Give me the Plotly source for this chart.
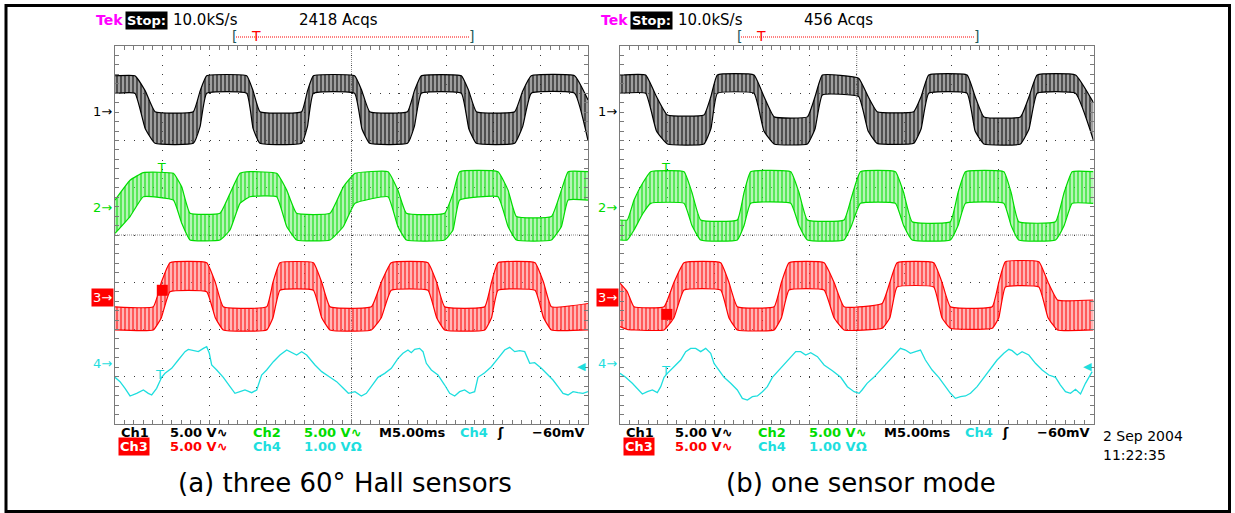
import plotly.graph_objects as go

W, H = 1235, 513

# ---------------- data: time in ms (0..50, 5 ms/div), amplitude in screen divisions ----------------
# Panel (a) three 60 deg Hall sensors
a1_t = [0, 2.11, 3.2, 4.23, 8.28, 9.0, 9.69, 13.92, 14.6, 15.33, 19.73, 20.35, 20.97, 25.33, 26.1, 26.92,
        30.92, 31.65, 32.38, 36.61, 37.4, 38.2, 42.25, 43.1, 44.0, 48.58, 50]
a1_hi = [3.37, 3.37, 3.05, 2.61, 2.61, 3.05, 3.37, 3.37, 3.05, 2.61, 2.61, 3.05, 3.37, 3.37, 3.05, 2.61,
         2.61, 3.05, 3.37, 3.37, 3.05, 2.61, 2.61, 3.05, 3.37, 3.37, 2.86]
a1_lo = [3.00, 3.00, 2.25, 1.94, 1.94, 2.3, 3.00, 3.00, 2.25, 1.94, 1.94, 2.3, 3.00, 3.00, 2.25, 1.94,
         1.94, 2.3, 3.00, 3.00, 2.25, 1.94, 1.94, 2.3, 3.00, 3.00, 2.0]

a2_t = [0, 1.59, 3.0, 6.17, 7.05, 7.93, 11.1, 12.16, 13.21, 14.27, 17.09, 18.15, 19.2, 22.73, 24.14, 25.37,
        28.86, 29.9, 30.8, 34.85, 35.73, 36.43, 40.49, 41.55, 42.43, 46.13, 47.19, 47.9, 50]
a2_hi = [0.74, 1.16, 1.32, 1.305, 1.02, 0.46, 0.46, 0.88, 1.305, 1.34, 1.305, 0.95, 0.46, 0.46, 1.02, 1.305,
         1.34, 0.95, 0.46, 0.46, 0.88, 1.34, 1.34, 0.95, 0.39, 0.39, 0.95, 1.34, 1.34]
a2_lo = [0.035, 0.39, 0.81, 0.74, 0.25, -0.106, -0.106, 0.106, 0.67, 0.81, 0.81, 0.18, -0.106, -0.106, 0.18, 0.67,
         0.81, 0.18, -0.106, -0.106, 0.106, 0.74, 0.81, 0.18, -0.106, -0.106, 0.18, 0.74, 0.74]

a3_t = [0, 4.05, 4.9, 5.81, 9.69, 10.6, 11.45, 16.03, 16.7, 17.44, 20.97, 21.85, 22.73, 27.1, 28.15, 29.2,
        33.08, 34.0, 34.85, 39.08, 39.8, 40.49, 44.4, 45.3, 46.13, 50]
a3_hi = [-1.52, -1.52, -1.0, -0.586, -0.586, -1.0, -1.52, -1.52, -1.0, -0.586, -0.586, -1.0, -1.52, -1.52, -1.0,
         -0.586, -0.586, -1.0, -1.52, -1.52, -1.0, -0.586, -0.586, -1.0, -1.52, -1.45]
a3_lo = [-2.01, -2.01, -1.75, -1.2, -1.2, -1.75, -2.01, -2.01, -1.75, -1.17, -1.17, -1.75, -2.01, -2.01, -1.75,
         -1.17, -1.17, -1.75, -2.01, -2.01, -1.75, -1.17, -1.17, -1.75, -2.01, -2.01]

a4_t = [0, 0.53, 1.06, 1.59, 2.29, 3.0, 3.52, 3.88, 4.40, 4.93, 5.29, 5.99, 6.69, 7.40, 7.75, 8.46, 8.81, 9.34,
        9.69, 9.97, 10.22, 10.75, 11.45, 12.16, 12.68, 13.21, 13.74, 14.45, 14.98, 15.50, 16.03, 16.74, 17.44,
        18.15, 18.68, 19.20, 19.73, 20.26, 21.14, 21.85, 22.73, 23.43, 24.14, 24.67, 25.37, 26.04, 26.57, 27.10,
        27.80, 28.51, 29.21, 29.92, 30.44, 30.97, 31.32, 31.68, 32.20, 32.56, 32.91, 33.44, 34.14, 34.85, 35.38,
        35.91, 36.43, 36.96, 37.49, 38.02, 38.37, 39.08, 39.78, 40.49, 41.19, 41.72, 42.25, 42.78, 43.31, 43.84,
        44.36, 45.07, 45.77, 46.30, 46.83, 47.36, 47.89, 48.42, 48.94, 49.47, 50.0]
a4_y = [-3.012, -3.104, -3.245, -3.407, -3.351, -3.280, -3.351, -3.386, -3.245, -3.012, -2.928, -2.822, -2.646,
        -2.469, -2.420, -2.448, -2.469, -2.399, -2.363, -2.504, -2.751, -2.857, -3.012, -3.210, -3.351, -3.316,
        -3.280, -3.337, -3.280, -2.963, -2.857, -2.681, -2.540, -2.434, -2.490, -2.540, -2.469, -2.540, -2.751,
        -2.892, -3.012, -3.104, -3.245, -3.351, -3.316, -3.407, -3.351, -3.210, -3.012, -2.928, -2.822, -2.610,
        -2.504, -2.434, -2.490, -2.420, -2.399, -2.469, -2.716, -2.857, -2.963, -3.175, -3.351, -3.407, -3.316,
        -3.280, -3.351, -3.316, -3.012, -2.914, -2.787, -2.610, -2.434, -2.377, -2.469, -2.448, -2.469, -2.716,
        -2.702, -2.822, -2.963, -3.069, -3.210, -3.351, -3.386, -3.316, -3.337, -3.351, -3.316]

# Panel (b) one sensor mode
b1_t = [0, 2.71, 3.85, 5.0, 8.87, 9.6, 10.28, 14.15, 15.2, 16.27, 19.79, 20.6, 21.37, 25.2, 26.2, 27.15,
        31.02, 31.8, 32.6, 36.65, 37.5, 38.42, 42.29, 43.2, 44.05, 48.1, 50]
b1_hi = [3.386, 3.386, 2.93, 2.54, 2.54, 2.93, 3.386, 3.386, 2.93, 2.50, 2.50, 2.93, 3.386, 3.32, 2.93, 2.61,
         2.61, 2.93, 3.386, 3.386, 2.93, 2.50, 2.50, 2.93, 3.386, 3.386, 2.8]
b1_lo = [2.998, 2.998, 2.2, 1.926, 1.926, 2.25, 2.998, 2.998, 2.2, 1.926, 1.926, 2.25, 2.963, 2.93, 2.2, 1.94,
         1.94, 2.25, 2.998, 2.998, 2.2, 1.926, 1.926, 2.25, 2.998, 2.998, 2.0]

b2_t = [0, 0.77, 1.48, 2.4, 3.24, 6.76, 7.6, 8.52, 12.39, 13.1, 13.8, 18.03, 18.9, 19.79, 23.66, 24.45, 25.39,
        29.08, 29.95, 30.85, 34.89, 35.7, 36.48, 40.53, 41.3, 42.1, 45.99, 46.9, 47.75, 50]
b2_hi = [0.317, 0.317, 0.74, 1.1, 1.34, 1.34, 0.9, 0.317, 0.317, 0.9, 1.34, 1.34, 0.9, 0.317, 0.317, 0.8, 1.34,
         1.34, 0.9, 0.28, 0.28, 0.9, 1.34, 1.34, 0.9, 0.28, 0.28, 0.9, 1.34, 1.34]
b2_lo = [-0.106, -0.106, 0.106, 0.45, 0.67, 0.67, 0.2, -0.106, -0.106, 0.2, 0.67, 0.67, 0.2, -0.106, -0.106, 0.2,
         0.67, 0.67, 0.2, -0.106, -0.106, 0.2, 0.67, 0.67, 0.2, -0.106, -0.106, 0.2, 0.67, 0.67]

b3_t = [0, 0.77, 1.48, 4.65, 5.7, 6.76, 10.63, 11.5, 12.39, 16.27, 17.05, 17.85, 21.55, 22.6, 23.66, 27.68,
        28.5, 29.26, 33.13, 34.0, 34.89, 39.3, 40.0, 40.7, 44.23, 45.2, 46.2, 50]
b3_hi = [-1.02, -1.2, -1.52, -1.52, -1.0, -0.586, -0.586, -1.0, -1.52, -1.52, -1.0, -0.586, -0.586, -1.0, -1.52,
         -1.45, -1.0, -0.586, -0.586, -1.0, -1.52, -1.52, -1.0, -0.565, -0.565, -1.0, -1.376, -1.376]
b3_lo = [-1.94, -2.0, -2.01, -2.01, -1.75, -1.164, -1.164, -1.75, -2.01, -2.01, -1.75, -1.164, -1.164, -1.75,
         -2.01, -1.975, -1.75, -1.1, -1.1, -1.75, -1.975, -1.975, -1.75, -1.1, -1.1, -1.75, -2.01, -2.01]

b4_t = [0, 0.60, 1.30, 2.01, 2.36, 2.89, 3.42, 3.94, 4.30, 4.65, 5.0, 5.70, 6.41, 6.94, 7.46, 7.99, 8.52, 9.05,
        9.58, 9.93, 10.46, 10.99, 11.69, 12.39, 12.92, 13.45, 13.98, 14.51, 15.04, 15.56, 16.09, 16.62, 17.32,
        18.03, 18.56, 19.08, 19.61, 20.14, 20.85, 21.55, 22.43, 23.31, 24.01, 24.72, 25.25, 25.56, 26.09, 26.80,
        27.50, 28.20, 28.91, 29.61, 30.14, 30.67, 31.20, 31.73, 32.25, 32.96, 33.66, 34.37, 34.89, 35.42, 35.95,
        36.48, 37.01, 37.71, 38.42, 39.12, 39.82, 40.53, 41.06, 41.41, 41.94, 42.46, 43.17, 43.87, 44.58, 45.28,
        45.99, 46.51, 47.04, 47.57, 48.10, 48.63, 49.15, 49.86]
b4_y = [-2.928, -3.012, -3.139, -3.280, -3.365, -3.316, -3.280, -3.337, -3.210, -3.012, -2.928, -2.787, -2.646,
        -2.469, -2.399, -2.399, -2.469, -2.399, -2.504, -2.716, -2.857, -3.012, -3.139, -3.280, -3.457, -3.492,
        -3.422, -3.407, -3.316, -3.210, -3.012, -2.892, -2.751, -2.575, -2.469, -2.469, -2.540, -2.490, -2.575,
        -2.751, -2.871, -3.012, -3.210, -3.316, -3.351, -3.280, -3.139, -3.012, -2.857, -2.716, -2.540, -2.399,
        -2.434, -2.504, -2.469, -2.434, -2.646, -2.857, -3.012, -3.210, -3.351, -3.457, -3.422, -3.407, -3.351,
        -3.210, -3.012, -2.822, -2.646, -2.504, -2.420, -2.448, -2.540, -2.469, -2.540, -2.716, -2.857, -2.963,
        -3.012, -3.175, -3.316, -3.351, -3.266, -3.365, -3.139, -2.892]

# channel ground-reference markers (divisions) and trigger markers (ms, divisions)
ch_labels = ["1", "2", "3", "4"]
ch_ref = [2.62, 0.59, -1.33, -2.73]
trig_level_ch4 = -2.79
a_trig_t = [4.94, 4.76, 5.0]          # green T, cyan T, red block
a_trig_y = [1.545, -2.84, -1.17]
b_trig_t = [4.86, 4.86, 4.95]
b_trig_y = [1.545, -2.75, -1.68]

hdr_acqs = ["2418 Acqs", "456 Acqs"]
captions = ["(a) three 60\u00b0 Hall sensors", "(b) one sensor mode"]

# ---------------- styling ----------------
BLACK, GREEN, RED, CYAN = "#000000", "#00dc00", "#ff0000", "#1edede"
MAG = "#ff00ff"
GRID = "#3a3a3a"
FRAME = "#7a7a7a"
MONO = "DejaVu Sans"

def fx(X):
    return X / W

def fy(Y):
    return 1 - Y / H

panels = [
    dict(xa="x", ya="y", X0=115.0, X1=588.0, off=0,
         bands=[(a1_t, a1_hi, a1_lo, BLACK, "rgba(95,95,95,0.6)"),
                (a2_t, a2_hi, a2_lo, GREEN, "rgba(110,235,110,0.5)"),
                (a3_t, a3_hi, a3_lo, RED, "rgba(255,110,110,0.5)")],
         line=(a4_t, a4_y), trig=(a_trig_t, a_trig_y)),
    dict(xa="x2", ya="y2", X0=620.0, X1=1093.5, off=505,
         bands=[(b1_t, b1_hi, b1_lo, BLACK, "rgba(95,95,95,0.6)"),
                (b2_t, b2_hi, b2_lo, GREEN, "rgba(110,235,110,0.5)"),
                (b3_t, b3_hi, b3_lo, RED, "rgba(255,110,110,0.5)")],
         line=(b4_t, b4_y), trig=(b_trig_t, b_trig_y)),
]

Y0, Y1 = 46.0, 424.0
fig = go.Figure()

for p in panels:
    for t, hi, lo, c, bg in p["bands"]:
        fig.add_trace(go.Scatter(x=t, y=hi, mode="lines", xaxis=p["xa"], yaxis=p["ya"],
                                 line=dict(color=c, width=1.2, shape="spline", smoothing=0.35),
                                 showlegend=False, hoverinfo="skip"))
        fig.add_trace(go.Scatter(x=t, y=lo, mode="lines", xaxis=p["xa"], yaxis=p["ya"],
                                 line=dict(color=c, width=1.2, shape="spline", smoothing=0.35),
                                 fill="tonexty", fillcolor=bg,
                                 fillpattern=dict(shape="|", fgcolor=c, bgcolor=bg, size=4, solidity=0.5),
                                 showlegend=False, hoverinfo="skip"))
    lt, ly = p["line"]
    fig.add_trace(go.Scatter(x=lt, y=ly, mode="lines", xaxis=p["xa"], yaxis=p["ya"],
                             line=dict(color=CYAN, width=1.3), showlegend=False, hoverinfo="skip"))
    tt, ty = p["trig"]
    fig.add_trace(go.Scatter(x=tt[:2], y=ty[:2], mode="text", text=["T", "T"], textposition="bottom center",
                             textfont=dict(color=[GREEN, CYAN], size=13, family=MONO),
                             xaxis=p["xa"], yaxis=p["ya"], showlegend=False, hoverinfo="skip"))
    fig.add_trace(go.Scatter(x=tt[2:], y=ty[2:], mode="markers",
                             marker=dict(symbol="square", size=11, color=RED),
                             xaxis=p["xa"], yaxis=p["ya"], showlegend=False, hoverinfo="skip"))

# ---------------- axes ----------------
ydom = [fy(Y1), fy(Y0)]
layout_axes = {}
for i, p in enumerate(panels):
    sx = "" if i == 0 else "2"
    xdom = [fx(p["X0"]), fx(p["X1"])]
    common = dict(showticklabels=False, showline=True, linecolor=FRAME, linewidth=1, mirror="ticks",
                  ticks="inside", ticklen=4, tickcolor=FRAME, zeroline=False, fixedrange=True,
                  showgrid=True, gridcolor=GRID, gridwidth=1, griddash="1px,8.46px")
    layout_axes["xaxis" + sx] = dict(common, domain=xdom, range=[0, 50], dtick=5, tick0=0,
                                     anchor="y" + sx,
                                     minor=dict(dtick=1, ticks="inside", ticklen=4, tickcolor=FRAME))
    layout_axes["yaxis" + sx] = dict(common, domain=ydom, range=[-4, 4], dtick=1, tick0=0,
                                     anchor="x" + sx,
                                     minor=dict(dtick=0.2, ticks="inside", ticklen=4, tickcolor=FRAME))
    # centre cross tick axes
    base = 3 + 2 * i
    cx = fx((p["X0"] + p["X1"]) / 2)
    cy = fy((Y0 + Y1) / 2)
    for k, tk in enumerate(["outside", "inside"]):
        n = str(base + k)
        layout_axes["xaxis" + n] = dict(overlaying="x" + sx, anchor="free", position=cy, range=[0, 50],
                                        showgrid=False, zeroline=False, showline=False, showticklabels=False,
                                        ticks=tk, ticklen=3, tickcolor=FRAME, dtick=1, tick0=0, side="bottom",
                                        fixedrange=True)
        layout_axes["yaxis" + n] = dict(overlaying="y" + sx, anchor="free", position=cx, range=[-4, 4],
                                        showgrid=False, zeroline=False, showline=False, showticklabels=False,
                                        ticks=tk, ticklen=3, tickcolor=FRAME, dtick=0.2, tick0=0, side="left",
                                        fixedrange=True)

# ---------------- shapes & annotations ----------------
shapes = []
ann = []

def txt(X, Y, s, color=BLACK, size=13, family=MONO, xanchor="left", bg=None, bold=False):
    ann.append(dict(x=fx(X), y=fy(Y), xref="paper", yref="paper", text=("<b>%s</b>" % s) if bold else s,
                    showarrow=False, xanchor=xanchor, yanchor="middle",
                    font=dict(color=color, size=size, family=family),
                    bgcolor=bg, borderpad=1))

# outer frame
shapes.append(dict(type="rect", xref="paper", yref="paper", x0=fx(6), x1=fx(1229.5), y0=fy(511.5), y1=fy(5.5),
                   line=dict(color="black", width=3), fillcolor="rgba(0,0,0,0)", layer="above"))

for i, p in enumerate(panels):
    sx = "" if i == 0 else "2"
    o = p["off"]
    # centre dotted lines
    shapes.append(dict(type="line", xref="x" + sx, yref="y" + sx, x0=25, x1=25, y0=-4, y1=4,
                       line=dict(color="#888888", width=1, dash="1px,1px"), layer="below"))
    shapes.append(dict(type="line", xref="x" + sx, yref="y" + sx, x0=0, x1=50, y0=0, y1=0,
                       line=dict(color="#888888", width=1, dash="1px,1px"), layer="below"))
    # header
    txt(94 + o, 20, "Tek", color=MAG, size=14, bold=True)
    txt(125 + o, 20, "Stop:", color="white", size=13, bg="black", bold=True)
    txt(171 + o, 20, "10.0kS/s", size=15)
    txt(297 + o, 20, hdr_acqs[i], size=15)
    # record/trigger bracket
    shapes.append(dict(type="line", xref="paper", yref="paper", x0=fx(236 + o), x1=fx(469 + o), y0=fy(37), y1=fy(37),
                       line=dict(color=RED, width=1, dash="1px,1px")))
    txt(234 + o, 36, "[", color="#1e5a5a", size=14, xanchor="center")
    txt(471 + o, 36, "]", color="#1e5a5a", size=14, xanchor="center")
    txt(256 + o, 36, "T", color=RED, size=14, xanchor="center")
    # channel reference markers
    for lab, yv, c in zip(ch_labels, ch_ref, [BLACK, GREEN, RED, CYAN]):
        if lab == "3":
            ann.append(dict(x=fx(p["X0"] - 1.5), y=yv, xref="paper", yref="y" + sx, text="3\u2192",
                            showarrow=False, xanchor="right", yanchor="middle",
                            font=dict(color="white", size=13, family=MONO), bgcolor=RED, borderpad=1))
        else:
            ann.append(dict(x=fx(p["X0"] - 1.5), y=yv, xref="paper", yref="y" + sx, text=lab + "\u2192",
                            showarrow=False, xanchor="right", yanchor="middle",
                            font=dict(color=c, size=13, family=MONO)))
    # ch4 trigger level arrow
    ann.append(dict(x=50, y=trig_level_ch4, xref="x" + sx, yref="y" + sx, text="\u25c0", showarrow=False,
                    xanchor="right", yanchor="middle", font=dict(color=CYAN, size=11, family=MONO)))
    # bottom readout
    txt(119 + o, 432, "Ch1", bold=True)
    txt(168 + o, 432, "5.00 V\u223f", bold=True)
    txt(251 + o, 432, "Ch2", color=GREEN, bold=True)
    txt(302 + o, 432, "5.00 V\u223f", color=GREEN, bold=True)
    txt(377 + o, 432, "M5.00ms", bold=True)
    txt(458 + o, 432, "Ch4", color=CYAN, bold=True)
    txt(495 + o, 432, "\u0283", bold=True)
    txt(530 + o, 432, "\u221260mV", bold=True)
    txt(118 + o, 446, "Ch3", color="white", bg=RED, bold=True)
    txt(168 + o, 446, "5.00 V\u223f", color=RED, bold=True)
    txt(251 + o, 446, "Ch4", color=CYAN, bold=True)
    txt(302 + o, 446, "1.00 V\u03a9", color=CYAN, bold=True)

txt(1101, 436, "2 Sep 2004", size=14)
txt(1101, 455, "11:22:35", size=14)

ann.append(dict(x=fx(345), y=fy(483), xref="paper", yref="paper", text=captions[0], showarrow=False,
                xanchor="center", yanchor="middle", font=dict(color="black", size=26, family="DejaVu Sans")))
ann.append(dict(x=fx(861), y=fy(483), xref="paper", yref="paper", text=captions[1], showarrow=False,
                xanchor="center", yanchor="middle", font=dict(color="black", size=26, family="DejaVu Sans")))

fig.update_layout(width=W, height=H, margin=dict(l=0, r=0, t=0, b=0), paper_bgcolor="white",
                  plot_bgcolor="white", showlegend=False, shapes=shapes, annotations=ann, **layout_axes)

fig.write_html("out.html", config=dict(displayModeBar=False))
